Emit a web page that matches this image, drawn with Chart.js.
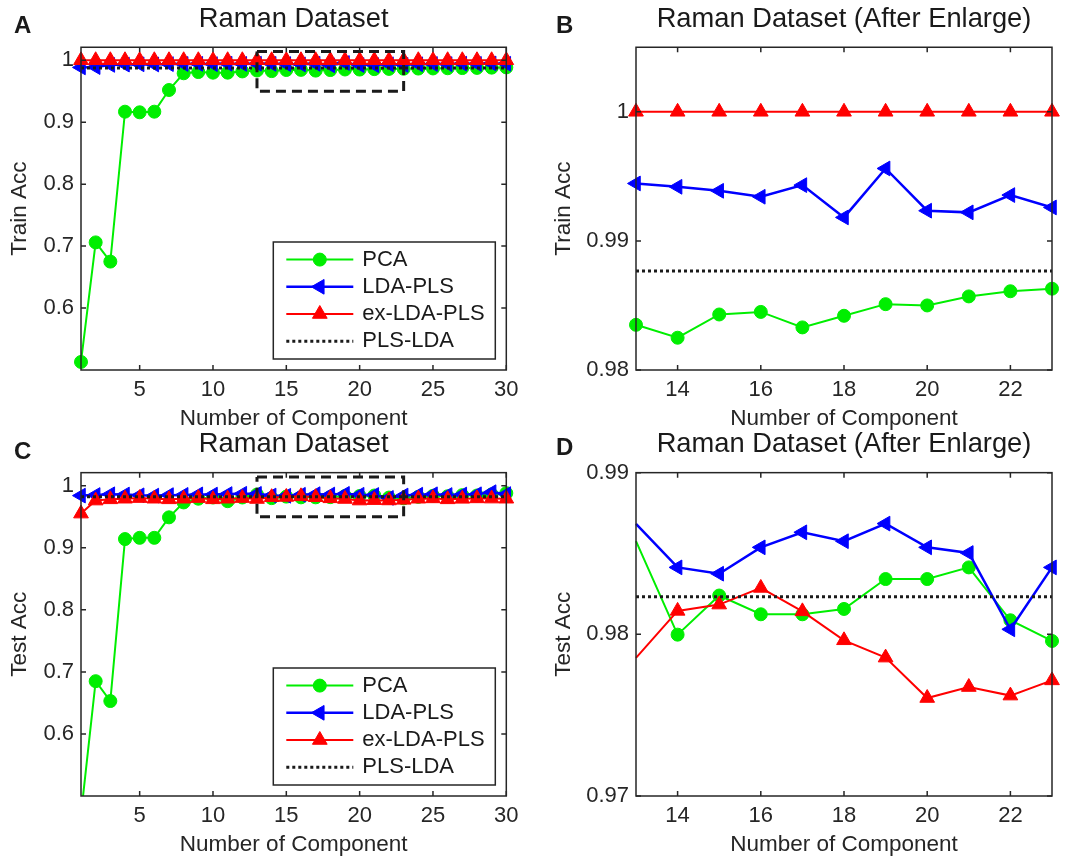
<!DOCTYPE html>
<html>
<head>
<meta charset="utf-8">
<title>Raman Dataset</title>
<script src="https://cdn.jsdelivr.net/npm/chart.js@4/dist/chart.umd.min.js"></script>
<style>
  body { margin: 0; background: #fff; }
  #wrap { position: relative; width: 1072px; height: 858px; }
  canvas { position: absolute; }
</style>
</head>
<body>
<div id="wrap">
  <canvas id="trainFull" width="530" height="432" style="left:0;top:0"></canvas>
  <canvas id="trainZoom" width="542" height="432" style="left:530px;top:0"></canvas>
  <canvas id="testFull" width="530" height="438" style="left:0;top:420px"></canvas>
  <canvas id="testZoom" width="542" height="438" style="left:530px;top:420px"></canvas>
</div>
<script>
// number of components (x axis)
const components = [1, 2, 3, 4, 5, 6, 7, 8, 9, 10, 11, 12, 13, 14, 15,
  16, 17, 18, 19, 20, 21, 22, 23, 24, 25, 26, 27, 28, 29, 30];

// training accuracy
const trainPCA = [0.513, 0.706, 0.675, 0.917, 0.916, 0.917, 0.952, 0.979, 0.981, 0.980,
  0.980, 0.982, 0.9835, 0.9825, 0.9843, 0.9845, 0.9833, 0.9842, 0.9851, 0.9850,
  0.9857, 0.9861, 0.9863, 0.9866, 0.9868, 0.9871, 0.9874, 0.9877, 0.9881, 0.9885];
const trainLDAPLS = [0.9885, 0.9890, 0.9925, 0.9930, 0.9935, 0.9932, 0.9938, 0.9940, 0.9942, 0.9938,
  0.9944, 0.9941, 0.99445, 0.99419, 0.99388, 0.99342, 0.99432, 0.99182, 0.99561, 0.99234,
  0.99221, 0.99355, 0.99259, 0.9935, 0.9940, 0.9938, 0.9945, 0.9942, 0.9948, 0.9944];
const trainExLDAPLS = [1, 1, 1, 1, 1, 1, 1, 1, 1, 1, 1, 1, 1, 1, 1,
  1, 1, 1, 1, 1, 1, 1, 1, 1, 1, 1, 1, 1, 1, 1];
const trainPLSLDA = 0.98766;

// test accuracy
const testPCA = [0.47, 0.685, 0.653, 0.914, 0.916, 0.916, 0.949, 0.973, 0.979, 0.981,
  0.975, 0.981, 0.98576, 0.97998, 0.98240, 0.98124, 0.98124, 0.98157, 0.98342, 0.98342,
  0.98414, 0.98087, 0.97959, 0.9820, 0.9838, 0.9830, 0.9848, 0.9842, 0.9860, 0.9880];
const testLDAPLS = [0.9840, 0.9850, 0.9862, 0.9858, 0.9845, 0.9840, 0.9848, 0.9852, 0.9860, 0.9857,
  0.9865, 0.9870, 0.98683, 0.98414, 0.98375, 0.98538, 0.98631, 0.98576, 0.98685, 0.98538,
  0.98503, 0.98031, 0.98414, 0.9855, 0.9862, 0.9850, 0.9858, 0.9862, 0.9895, 0.9865];
const testExLDAPLS = [0.955, 0.976, 0.978, 0.979, 0.980, 0.979, 0.978, 0.979, 0.980, 0.978,
  0.979, 0.980, 0.97854, 0.98145, 0.98184, 0.98287, 0.98142, 0.97963, 0.97856, 0.97606,
  0.97674, 0.97621, 0.97715, 0.9790, 0.9795, 0.9780, 0.9788, 0.9795, 0.9792, 0.9790];
const testPLSLDA = 0.98232;

// enlarged region (dashed box)
const zoomComponents = [13, 23];
const zoomAcc = [0.95, 1.014];

// axis limits and ticks
const fullRange = [1, 30];
const fullAcc = [0.5, 1.021];
const trainZoomAcc = [0.98, 1.005];
const testZoomAcc = [0.97, 0.99];
const xTicksFull = [5, 10, 15, 20, 25, 30];
const xTicksZoom = [14, 16, 18, 20, 22];
const yTicksFull = [0.6, 0.7, 0.8, 0.9, 1];
const yTicksTrainZoom = [0.98, 0.99, 1];
const yTicksTestZoom = [0.97, 0.98, 0.99];

Chart.defaults.font.family = '"Liberation Sans", Arial, Helvetica, sans-serif';
Chart.defaults.color = '#262626';

const styles = {
  pca: { color: '#00ee00', width: 2, point: 'circle', radius: 6.5, rotation: 0 },
  lda: { color: '#0000ff', width: 2.5, point: 'triangle', radius: 8.5, rotation: -90 },
  exlda: { color: '#ff0000', width: 2, point: 'triangle', radius: 8.5, rotation: 0 },
  pls: { color: '#1a1a1a', width: 3, dash: [3, 3] }
};

// box, inward ticks, legend and panel letter
const matlabAxes = {
  id: 'matlabAxes',
  afterDatasetsDraw(chart, args, opts) {
    const { ctx, chartArea: a, scales: { x, y } } = chart;
    ctx.save();
    ctx.strokeStyle = '#262626';
    ctx.lineWidth = 1.5;
    ctx.strokeRect(a.left, a.top, a.width, a.height);
    ctx.beginPath();
    x.ticks.forEach(t => {
      const px = x.getPixelForValue(t.value);
      ctx.moveTo(px, a.bottom); ctx.lineTo(px, a.bottom - 5);
      ctx.moveTo(px, a.top); ctx.lineTo(px, a.top + 5);
    });
    y.ticks.forEach(t => {
      const py = y.getPixelForValue(t.value);
      ctx.moveTo(a.left, py); ctx.lineTo(a.left + 5, py);
      ctx.moveTo(a.right, py); ctx.lineTo(a.right - 5, py);
    });
    ctx.stroke();

    if (opts.legend) {
      const w = 222, h = 117;
      const left = a.right - 11 - w, top = a.bottom - 11 - h;
      ctx.fillStyle = '#fff';
      ctx.fillRect(left, top, w, h);
      ctx.strokeRect(left, top, w, h);
      opts.legend.forEach(([label, s], i) => {
        const yy = top + 17.6 + i * 27.2;
        ctx.strokeStyle = s.color;
        ctx.lineWidth = s.width;
        ctx.setLineDash(s.dash || []);
        ctx.beginPath();
        ctx.moveTo(left + 13, yy);
        ctx.lineTo(left + 80, yy);
        ctx.stroke();
        ctx.setLineDash([]);
        if (s.point) {
          ctx.fillStyle = s.color;
          ctx.lineWidth = 1;
          Chart.helpers.drawPoint(ctx, { pointStyle: s.point, radius: s.radius, rotation: s.rotation, borderWidth: 1 }, left + 46.5, yy);
        }
        ctx.fillStyle = '#1a1a1a';
        ctx.font = '22px "Liberation Sans", Arial, sans-serif';
        ctx.textBaseline = 'middle';
        ctx.fillText(label, left + 89, yy);
      });
    }
    ctx.restore();
  },
  afterDraw(chart, args, opts) {
    const { ctx } = chart;
    ctx.save();
    ctx.fillStyle = '#1a1a1a';
    ctx.font = 'bold 24px "Liberation Sans", Arial, sans-serif';
    ctx.textBaseline = 'alphabetic';
    ctx.fillText(opts.letter, opts.lx, opts.ly);
    ctx.restore();
  }
};

function seriesData(values, range) {
  return components.map((c, i) => ({ x: c, y: values[i] }))
    .filter(p => p.x >= range[0] && p.x <= range[1]);
}

function buildDatasets(pca, lda, exlda, plsValue, range, showBox, hideFirstMarker) {
  const mk = (label, vals, s, order) => ({
    label, order,
    data: seriesData(vals, range),
    borderColor: s.color,
    backgroundColor: s.color,
    pointBackgroundColor: s.color,
    pointBorderColor: s.color,
    borderWidth: s.width,
    pointStyle: s.point,
    pointRotation: s.rotation,
    pointRadius: hideFirstMarker ? (c => c.dataIndex === 0 ? 0 : s.radius) : s.radius,
    pointBorderWidth: 1,
    clip: { left: 12, right: 12, top: 12, bottom: 0 }
  });
  const sets = [
    mk('PCA', pca, styles.pca, 4),
    mk('LDA-PLS', lda, styles.lda, 3),
    mk('ex-LDA-PLS', exlda, styles.exlda, 2),
    {
      label: 'PLS-LDA', order: 1,
      data: [{ x: range[0], y: plsValue }, { x: range[1], y: plsValue }],
      borderColor: styles.pls.color, borderWidth: styles.pls.width,
      borderDash: styles.pls.dash, pointRadius: 0
    }
  ];
  if (showBox) {
    sets.push({
      order: 0,
      data: [
        { x: zoomComponents[0], y: zoomAcc[1] }, { x: zoomComponents[1], y: zoomAcc[1] },
        { x: zoomComponents[1], y: zoomAcc[0] }, { x: zoomComponents[0], y: zoomAcc[0] },
        { x: zoomComponents[0], y: zoomAcc[1] }
      ],
      borderColor: '#1a1a1a', borderWidth: 3, borderDash: [10, 6],
      borderJoinStyle: 'miter', pointRadius: 0
    });
  }
  return sets;
}

function makePanel(id, p) {
  const ctx = document.getElementById(id).getContext('2d');
  Chart.getChart(ctx)?.destroy();
  new Chart(ctx, {
    type: 'line',
    data: { datasets: p.datasets },
    plugins: [matlabAxes],
    options: {
      responsive: false,
      animation: false,
      events: [],
      layout: { autoPadding: false, padding: { left: 0, top: 0, bottom: 0, right: p.padRight } },
      plugins: {
        legend: { display: false },
        tooltip: { enabled: false },
        title: {
          display: true, text: p.title, fullSize: false, color: '#1a1a1a',
          font: { size: 27.3, weight: 'normal' },
          padding: { top: p.titleTop, bottom: p.titleBottom }
        },
        matlabAxes: { legend: p.legend, letter: p.letter, lx: p.lx, ly: p.ly }
      },
      scales: {
        x: {
          type: 'linear', min: p.xRange[0], max: p.xRange[1],
          afterBuildTicks: s => { s.ticks = p.xTicks.map(v => ({ value: v })); },
          afterFit: s => { s.height = 62; },
          grid: { display: false, drawTicks: false },
          border: { display: false },
          ticks: { font: { size: 22 }, padding: 7, autoSkip: false, maxRotation: 0, callback: v => String(v) },
          title: { display: true, text: 'Number of Component', font: { size: 22.5 }, padding: { top: 0, bottom: 0 } }
        },
        y: {
          type: 'linear', min: p.yRange[0], max: p.yRange[1],
          afterBuildTicks: s => { s.ticks = p.yTicks.map(v => ({ value: v })); },
          afterFit: s => { s.width = p.yWidth; },
          grid: { display: false, drawTicks: false },
          border: { display: false },
          ticks: { font: { size: 22 }, padding: 7, autoSkip: false, callback: v => String(v) },
          title: { display: true, text: p.yTitle, font: { size: 22.5 }, padding: { top: p.yTitlePad, bottom: 0 } }
        }
      }
    }
  });
}

const legendItems = [['PCA', styles.pca], ['LDA-PLS', styles.lda], ['ex-LDA-PLS', styles.exlda], ['PLS-LDA', styles.pls]];

makePanel('trainFull', {
  datasets: buildDatasets(trainPCA, trainLDAPLS, trainExLDAPLS, trainPLSLDA, fullRange, true, false),
  title: 'Raman Dataset', titleTop: 2.9, titleBottom: 11.6,
  xRange: fullRange, xTicks: xTicksFull, yRange: fullAcc, yTicks: yTicksFull,
  yTitle: 'Train Acc', yWidth: 81, yTitlePad: 6.5, padRight: 23.7,
  legend: legendItems, letter: 'A', lx: 14, ly: 33.3
});

makePanel('trainZoom', {
  datasets: buildDatasets(trainPCA, trainLDAPLS, trainExLDAPLS, trainPLSLDA, zoomComponents, false, false),
  title: 'Raman Dataset (After Enlarge)', titleTop: 2.9, titleBottom: 11.6,
  xRange: zoomComponents, xTicks: xTicksZoom, yRange: trainZoomAcc, yTicks: yTicksTrainZoom,
  yTitle: 'Train Acc', yWidth: 106, yTitlePad: 20.3, padRight: 20,
  legend: null, letter: 'B', lx: 26, ly: 33.3
});

makePanel('testFull', {
  datasets: buildDatasets(testPCA, testLDAPLS, testExLDAPLS, testPLSLDA, fullRange, true, false),
  title: 'Raman Dataset', titleTop: 7.9, titleBottom: 12.0,
  xRange: fullRange, xTicks: xTicksFull, yRange: fullAcc, yTicks: yTicksFull,
  yTitle: 'Test Acc', yWidth: 81, yTitlePad: 6.5, padRight: 23.7,
  legend: legendItems, letter: 'C', lx: 14, ly: 39.3
});

makePanel('testZoom', {
  datasets: buildDatasets(testPCA, testLDAPLS, testExLDAPLS, testPLSLDA, zoomComponents, false, true),
  title: 'Raman Dataset (After Enlarge)', titleTop: 7.9, titleBottom: 12.0,
  xRange: zoomComponents, xTicks: xTicksZoom, yRange: testZoomAcc, yTicks: yTicksTestZoom,
  yTitle: 'Test Acc', yWidth: 106, yTitlePad: 20.3, padRight: 20,
  legend: null, letter: 'D', lx: 26, ly: 35
});
</script>
</body>
</html>
